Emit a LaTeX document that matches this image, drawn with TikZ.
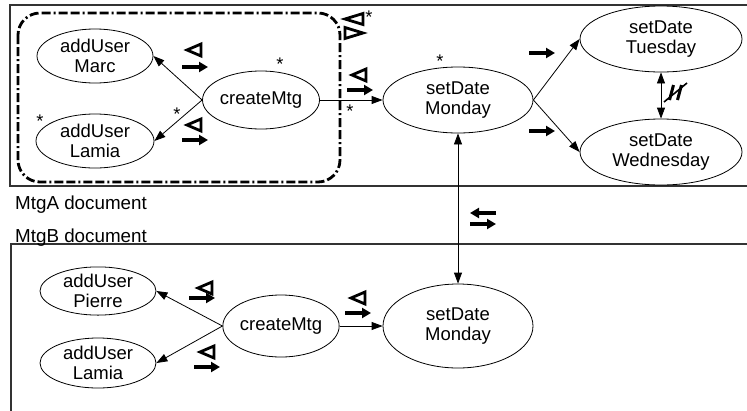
\documentclass[tikz,border=0pt]{standalone}
\usepackage{fontspec}
\setmainfont{Liberation Sans}
\usetikzlibrary{arrows.meta,shapes.geometric}
\begin{document}
\begin{tikzpicture}[x=1pt,y=-1pt,
  ev/.style={ellipse,draw,line width=0.8pt,inner sep=0pt,align=center,
    font=\fontsize{18.5}{20.5}\selectfont},
  edge/.style={line width=0.8pt,-{Triangle[length=11pt,width=8pt]}},
  dedge/.style={line width=0.8pt,{Triangle[length=11pt,width=8pt]}-{Triangle[length=11pt,width=8pt]}},
  star/.style={font=\fontsize{18.3}{20}\selectfont,inner sep=0pt},
  doc/.style={line width=1.2pt,draw=black!80},
  lbl/.style={font=\fontsize{18.8}{20}\selectfont,anchor=west,inner sep=0pt},
  group/.style={line width=2.8pt,rounded corners=22pt,
    dash pattern=on 9pt off 3pt on 9pt off 3pt on 2pt off 3pt},
  thick arrow/.style={line width=3.4pt,-{Triangle[length=9pt,width=10pt]}},
  ltri/.pic={\draw[line width=2.8pt,line join=miter] (-7,0) -- (7,-6) -- (7,6) -- cycle;},
  bigltri/.pic={\draw[line width=2.8pt,line join=miter] (-9,0) -- (9,-5.5) -- (9,5.5) -- cycle;},
  bigrtri/.pic={\draw[line width=2.8pt,line join=miter] (9,0) -- (-9,-5.5) -- (-9,5.5) -- cycle;},
  rarr/.pic={\draw[thick arrow] (-13,0) -- (13,0);},
  larr/.pic={\draw[thick arrow] (13,0) -- (-13,0);}
]
\useasboundingbox (0,0) rectangle (747,410);

% document frames
\draw[doc] (750,5) -- (10,5) -- (10,186) -- (750,186);
\draw[doc] (750,244) -- (11,244) -- (11,415);
\node[lbl] (docA) at (15,205) {MtgA document};
\node[lbl] (docB) at (15,237.5) {MtgB document};

% group box
\draw[group] (18,13) rectangle (340,182);

% MtgA nodes
\node[ev,minimum width=116pt,minimum height=54pt] (marc) at (95,56) {addUser\\Marc};
\node[ev,minimum width=118pt,minimum height=54pt] (lamA) at (95,141) {addUser\\Lamia};
\node[ev,minimum width=117pt,minimum height=58pt] (cA) at (261,100) {createMtg};
\node[ev,minimum width=150pt,minimum height=66pt] (monA) at (458,100) {setDate\\Monday};
\node[ev,minimum width=162pt,minimum height=66pt] (tue) at (661,39) {setDate\\Tuesday};
\node[ev,minimum width=162pt,minimum height=66pt] (wed) at (661,152) {setDate\\Wednesday};

% MtgB nodes
\node[ev,minimum width=116pt,minimum height=48pt] (pie) at (98,291) {addUser\\Pierre};
\node[ev,minimum width=116pt,minimum height=50pt] (lamB) at (98,363) {addUser\\Lamia};
\node[ev,minimum width=116pt,minimum height=62pt] (cB) at (281,326) {createMtg};
\node[ev,minimum width=150pt,minimum height=84pt] (monB) at (458,326) {setDate\\Monday};

% edges
\draw[edge] (cA.west) -- (marc.east);
\draw[edge] (cA.west) -- (lamA.east);
\draw[edge] (cA.east) -- (monA.west);
\draw[edge] (monA.east) -- (tue.west);
\draw[edge] (monA.east) -- (wed.west);
\draw[dedge] (tue.south) -- (wed.north);
\draw[dedge] (monA.south) -- (monB.north);
\draw[edge] (cB.west) -- (pie.east);
\draw[edge] (cB.west) -- (lamB.east);
\draw[edge] (cB.east) -- (monB.west);

% stars
\node[star] (s1) at (280,64) {*};
\node[star] (s2) at (177,114) {*};
\node[star] (s3) at (40,121) {*};
\node[star] (s4) at (350,111) {*};
\node[star] (s5) at (440,61) {*};
\node[star] (s6) at (369,17) {*};

% edge labels (top)
\pic at (194,50) {ltri};  \pic at (195,67) {rarr};
\pic at (194,125) {ltri}; \pic at (195,140) {rarr};
\pic at (359,75) {ltri};  \pic at (360,90) {rarr};
\pic at (542,53) {rarr};
\pic at (542,131) {rarr};
% bow-tie symbol
\pic at (354,19) {bigltri};
\pic at (354,33) {bigrtri};
% not-parallel symbol
\draw[line width=3pt] (669.5,100) -- (673.5,85) (677.5,100) -- (681.5,85);
\draw[line width=1.6pt] (664,102) -- (687,83);
% exchange symbol
\pic at (483,213) {larr};
\pic at (483,224) {rarr};

% edge labels (bottom)
\pic at (205,288) {ltri}; \pic at (202,298) {rarr};
\pic at (207,352) {ltri}; \pic at (207,367) {rarr};
\pic at (358,298) {ltri}; \pic at (358,313) {rarr};
\end{tikzpicture}
\end{document}
